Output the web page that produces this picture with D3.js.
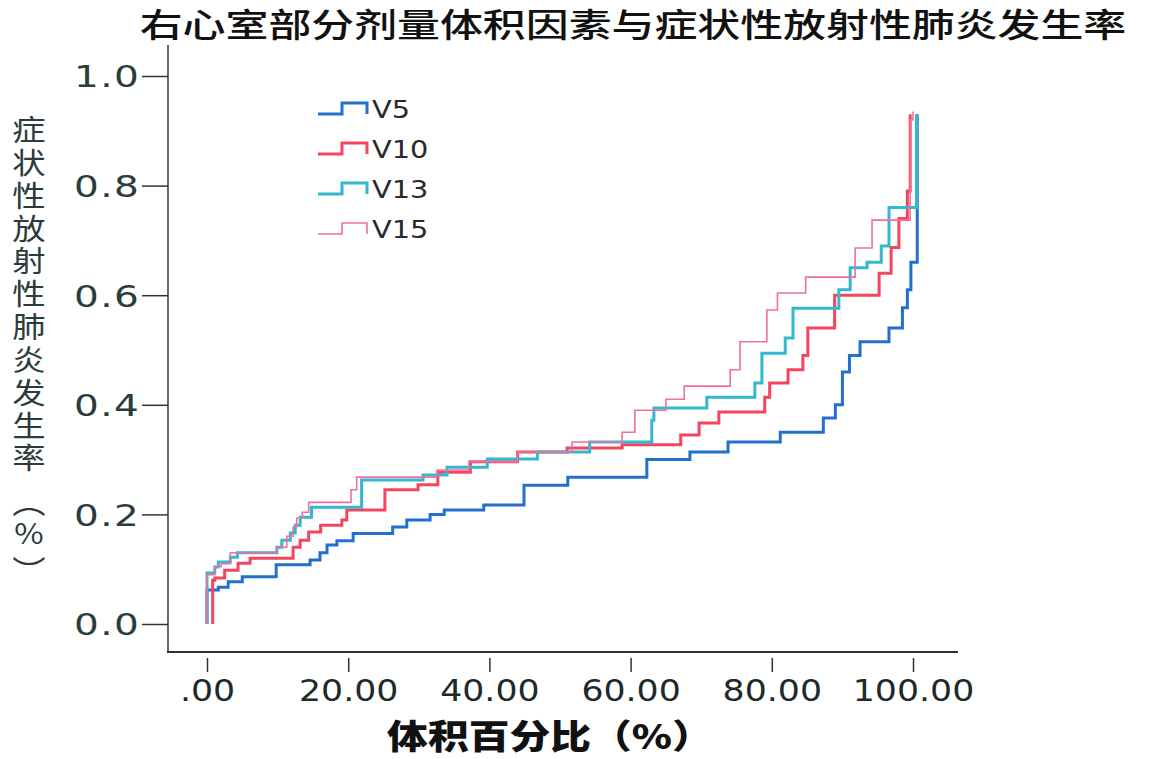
<!DOCTYPE html>
<html>
<head>
<meta charset="utf-8">
<script src="https://cdn.jsdelivr.net/npm/d3@7"></script>
<style>
  html, body { margin: 0; padding: 0; background: #fff; }
</style>
</head>
<body>
<div id="chart"></div>
<script>
// series: [volume %, incidence] step points (step starts at x)
const v5 = [[0,0],[0,0.062],[1.6,0.067],[3.0,0.077],[5.0,0.086],[9.5,0.086],[9.8,0.108],[14.6,0.117],
  [16.0,0.13],[17.0,0.144],[18.4,0.152],[20.7,0.165],[26.3,0.177],[28.3,0.19],[31.6,0.2],[33.6,0.208],
  [39.2,0.217],[44.9,0.253],[51.1,0.268],[62.3,0.3],[68.4,0.314],[73.8,0.332],[81.2,0.35],[87.3,0.376],
  [89.0,0.40],[90.0,0.46],[91.0,0.49],[92.5,0.515],[96.6,0.54],[98.5,0.577],[99.2,0.61],[99.7,0.66],[100.6,0.93]];
const v10 = [[0.8,0],[0.8,0.08],[1.1,0.084],[2.5,0.098],[4.4,0.111],[6.1,0.12],[12.2,0.14],
  [13.2,0.153],[14.4,0.168],[16.1,0.18],[19.1,0.19],[19.8,0.208],[25.2,0.245],[29.9,0.254],[32.7,0.277],
  [37.3,0.296],[44.0,0.314],[51.0,0.321],[58.8,0.327],[67.1,0.345],[69.7,0.367],[72.5,0.387],[79.0,0.414],
  [79.7,0.44],[82.3,0.464],[84.4,0.49],[85.1,0.54],[88.9,0.60],[95.2,0.64],[96.9,0.687],[98.0,0.74],
  [99.2,0.79],[99.6,0.93]];
const v13 = [[0,0],[0,0.093],[1.1,0.104],[1.6,0.113],[3.3,0.122],[4.3,0.13],[9.9,0.14],[10.6,0.153],
  [11.8,0.166],[12.5,0.18],[13.2,0.195],[14.8,0.213],[21.9,0.263],[30.6,0.272],[34.0,0.286],
  [39.7,0.301],[46.8,0.314],[54.2,0.332],[63.0,0.372],[63.3,0.394],[70.8,0.414],[77.6,0.44],[78.6,0.494],
  [81.9,0.522],[83.0,0.576],[89.5,0.61],[91.1,0.65],[93.5,0.66],[95.5,0.69],[96.6,0.76],[100.5,0.93]];
const v15 = [[0,0],[0,0.09],[1.1,0.105],[2.0,0.11],[3.3,0.13],[9.9,0.14],[11.3,0.16],
  [12.2,0.177],[12.7,0.193],[13.5,0.204],[14.4,0.222],[20.4,0.245],[21.2,0.268],[32.6,0.281],
  [37.1,0.296],[44.0,0.314],[51.7,0.332],[58.8,0.35],[60.6,0.39],[65.0,0.41],[67.6,0.434],[74.1,0.464],
  [75.5,0.515],[79.3,0.573],[80.8,0.604],[84.8,0.633],[91.8,0.686],[94.2,0.737],[99.6,0.92],[100.0,0.935]];

const seriesNames = ["V5", "V10", "V13", "V15"];
const seriesData = [v5, v10, v13, v15];
const xTicks = [0, 20, 40, 60, 80, 100];
const yTicks = [0, 0.2, 0.4, 0.6, 0.8, 1.0];

const title = "右心室部分剂量体积因素与症状性放射性肺炎发生率";
const xTitle = "体积百分比（%）";
const yTitle = "症状性放射性肺炎发生率︵%︶";

// styles
const colors = ["#2170cc", "#f5455e", "#33b8cf", "#ef6f9e"];
const widths = [3, 3, 3, 1.6];
const textColor = "#2c3c3c";
const W = 1149, H = 759;

const x = d3.scaleLinear().domain([0, 100]).range([207, 913]);
const y = d3.scaleLinear().domain([0, 1]).range([624, 76]);

const svg = d3.select("#chart").append("svg")
    .attr("width", W)
    .attr("height", H)
    .style("display", "block")
    .style("background", "#fff");

// stretched text helper (the picture is a bit wide)
function stext(g, tx, ty, str, sx, anchor) {
  return g.append("text")
      .attr("transform", `translate(${tx},${ty}) scale(${sx},1)`)
      .attr("text-anchor", anchor || "start")
      .text(str);
}

// title
const tg = svg.append("g")
    .style("font-family", "'Noto Sans CJK SC', sans-serif")
    .style("font-size", "33px")
    .style("font-weight", 500)
    .attr("fill", "#111");
stext(tg, 633, 37, title, 1.3, "middle");

// y axis
const yAxis = svg.append("g")
    .attr("transform", "translate(168,0)")
    .call(d3.axisLeft(y).tickValues(yTicks).tickSize(26).tickSizeOuter(0).tickPadding(6)
      .tickFormat(d => d.toFixed(1)));
yAxis.select(".domain").remove();
yAxis.selectAll(".tick line").attr("stroke", "#333").attr("stroke-width", 1.5);
yAxis.selectAll(".tick text").remove();
yAxis.selectAll(".tick").each(function(d) {
  d3.select(this).append("text")
      .attr("transform", "translate(-28,0) scale(1.3,1)")
      .attr("text-anchor", "end")
      .attr("dy", "0.36em")
      .attr("fill", textColor)
      .style("font-family", "'DejaVu Sans', sans-serif")
      .style("font-size", "30px")
      .style("letter-spacing", "1px")
      .text(d.toFixed(1));
});
svg.append("line")
    .attr("x1", 168).attr("x2", 168).attr("y1", 45).attr("y2", 653)
    .attr("stroke", "#333").attr("stroke-width", 1.5);

// x axis
svg.append("line")
    .attr("x1", 167).attr("x2", 958).attr("y1", 652).attr("y2", 652)
    .attr("stroke", "#333").attr("stroke-width", 2);
const xAxis = svg.append("g")
    .attr("transform", "translate(0,658)")
    .call(d3.axisBottom(x).tickValues(xTicks).tickSize(14).tickSizeOuter(0));
xAxis.select(".domain").remove();
xAxis.selectAll(".tick line").attr("stroke", "#333").attr("stroke-width", 1.5);
xAxis.selectAll(".tick text").remove();
xAxis.selectAll(".tick").each(function(d) {
  d3.select(this).append("text")
      .attr("transform", "translate(0,43) scale(1.12,1)")
      .attr("text-anchor", "middle")
      .attr("fill", "#1e2a2a")
      .style("font-family", "'DejaVu Sans', sans-serif")
      .style("font-size", "31px")
      .text(d === 0 ? ".00" : d.toFixed(2));
});

// x title
const xg = svg.append("g")
    .style("font-family", "'Noto Sans CJK SC', sans-serif")
    .style("font-size", "34px")
    .style("font-weight", 900)
    .attr("fill", "#111");
stext(xg, 550, 749, xTitle, 1.2, "middle");

// y title, one character per row
const yg = svg.append("g")
    .style("font-family", "'Noto Sans CJK SC', sans-serif")
    .style("font-size", "29px")
    .attr("fill", textColor);
const yChars = yTitle.split("");
const yRows = [141, 174, 207, 240, 272, 305, 338, 371, 404, 437, 469, 514, 544, 582];
yChars.forEach((c, i) => {
  stext(yg, 29, yRows[i], c, c === "%" ? 1.1 : 1.15, "middle");
});

// curves
const line = d3.line()
    .x(d => x(d[0]))
    .y(d => y(d[1]))
    .curve(d3.curveStepAfter);

svg.append("g")
  .selectAll("path")
  .data(seriesData)
  .join("path")
    .attr("d", line)
    .attr("fill", "none")
    .attr("stroke", (d, i) => colors[i])
    .attr("stroke-width", (d, i) => widths[i])
    .attr("stroke-linejoin", "miter");

// legend
const leg = svg.append("g").attr("transform", "translate(318,114)");
seriesNames.forEach((name, i) => {
  const g = leg.append("g").attr("transform", `translate(0,${i * 40})`);
  g.append("path")
      .attr("d", "M0,0 H24 V-11 H49 V0")
      .attr("fill", "none")
      .attr("stroke", colors[i])
      .attr("stroke-width", widths[i]);
  g.append("text")
      .attr("transform", "translate(54,4) scale(1.2,1)")
      .attr("fill", "#2a2a2a")
      .style("font-family", "'DejaVu Sans', sans-serif")
      .style("font-size", "24px")
      .text(name);
});
</script>
</body>
</html>
